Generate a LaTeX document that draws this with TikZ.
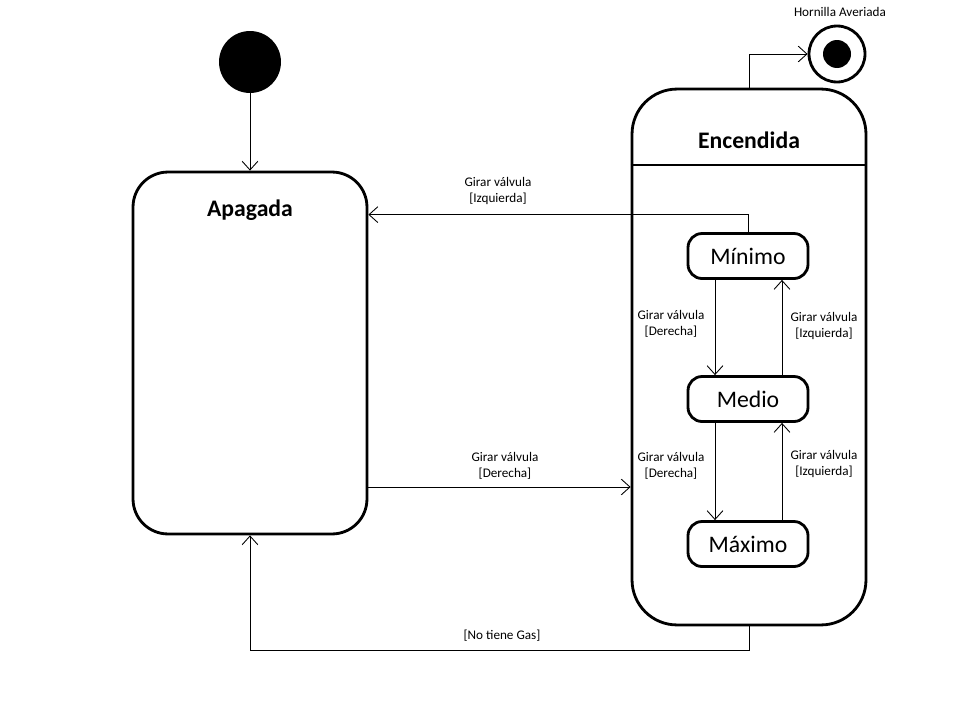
\documentclass[tikz,border=0pt]{standalone}
\usepackage{fontspec}
\setmainfont{Carlito}
\usepackage{tikz}
\usetikzlibrary{arrows.meta,calc}
\tikzstyle{estado}=[draw, line width=1.6pt, fill=white]
\tikzstyle{subestado}=[draw, line width=1.6pt, rounded corners=8pt, minimum width=2.4cm, minimum height=0.9cm, font=\fontsize{13.5}{15}\selectfont]
\tikzstyle{titulo}=[font=\fontsize{13.5}{15}\selectfont\bfseries]
\tikzstyle{etiqueta}=[align=center, font=\fontsize{7.5}{9}\selectfont]
\tikzstyle{flecha}=[-{Straight Barb[length=5pt,width=9pt]}, line width=0.5pt]

\begin{document}
\begin{tikzpicture}[x=0.02cm,y=-0.02cm]
	\useasboundingbox (0,0) rectangle (960,720);
	% estados
	\node[circle, fill=black, minimum size=1.24cm, inner sep=0pt] (inicio) at (250,62) {};
	\node[estado, rounded corners=0.7cm, minimum width=4.68cm, minimum height=7.24cm] (apagada) at (250,353) {};
	\node[titulo] at (250,210) {Apagada};
	\node[estado, rounded corners=0.9cm, minimum width=4.68cm, minimum height=10.72cm] (encendida) at (749,357) {};
	\node[titulo] at (749,140) {Encendida};
	\draw[line width=0.6pt] (encendida.west |- 0,165) -- (encendida.east |- 0,165);
	\node[circle, draw, line width=1.6pt, minimum size=1.12cm, inner sep=0pt] (final) at (837,54) {};
	\fill (final.center) circle (14);
	\node[etiqueta] at (840,12) {Hornilla Averiada};
	\node[subestado] (minimo) at (748,256) {Mínimo};
	\node[subestado] (medio) at (748,399) {Medio};
	\node[subestado] (maximo) at (748,544) {Máximo};
	% transiciones
	\draw[flecha] (inicio) -- (apagada);
	\draw[flecha] (encendida.north) |- (final.west);
	\draw[flecha] (minimo.north) |- ($(apagada.north east)+(0,44)$);
	\node[etiqueta] at (498,191) {Girar válvula\\{[Izquierda]}};
	\draw[flecha] (apagada.east |- 0,487) -- (encendida.west |- 0,487);
	\node[etiqueta] at (505,466) {Girar válvula\\{[Derecha]}};
	\draw[flecha] (encendida.south) -- ++(0,24) -| (apagada.south);
	\node[etiqueta] at (502,636) {[No tiene Gas]};
	\draw[flecha] ($(minimo.south)+(-33,0)$) -- ($(medio.north)+(-33,0)$);
	\node[etiqueta] at (671,324) {Girar válvula\\{[Derecha]}};
	\draw[flecha] ($(medio.north)+(34,0)$) -- ($(minimo.south)+(34,0)$);
	\node[etiqueta] at (824,326) {Girar válvula\\{[Izquierda]}};
	\draw[flecha] ($(medio.south)+(-33,0)$) -- ($(maximo.north)+(-33,0)$);
	\node[etiqueta] at (671,466) {Girar válvula\\{[Derecha]}};
	\draw[flecha] ($(maximo.north)+(34,0)$) -- ($(medio.south)+(34,0)$);
	\node[etiqueta] at (824,464) {Girar válvula\\{[Izquierda]}};
\end{tikzpicture}
\end{document}
